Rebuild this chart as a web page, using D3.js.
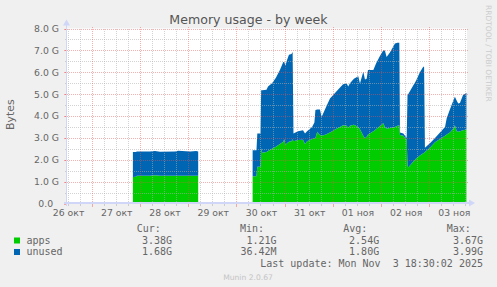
<!DOCTYPE html>
<html><head><meta charset="utf-8">
<script src="https://cdn.jsdelivr.net/npm/d3@7"></script>
<style>
html,body{margin:0;padding:0;background:#f0f0f0;}
svg{display:block;}
text{font-family:"DejaVu Sans",sans-serif;}
.mono{font-family:"DejaVu Sans Mono",monospace;white-space:pre;}
</style></head><body>
<script>
// ---- data (GB) ----
const times = [
 "2025-10-27 20:30","2025-10-27 22:00","2025-10-27 22:30","2025-10-28 05:00","2025-10-28 07:30","2025-10-28 10:00",
 "2025-10-28 17:30","2025-10-28 19:00","2025-10-29 01:00","2025-10-29 04:00","2025-10-29 05:00","2025-10-29 05:30",
 "2025-10-30 08:05","2025-10-30 10:00","2025-10-30 10:25","2025-10-30 12:00","2025-10-30 12:20","2025-10-30 12:50",
 "2025-10-30 15:00","2025-10-30 15:45","2025-10-30 17:45","2025-10-30 19:40","2025-10-30 21:40","2025-10-30 23:20",
 "2025-10-30 23:50","2025-10-31 00:25","2025-10-31 01:10","2025-10-31 02:10","2025-10-31 03:25","2025-10-31 04:00",
 "2025-10-31 04:25","2025-10-31 06:40","2025-10-31 09:10","2025-10-31 10:10","2025-10-31 11:10","2025-10-31 13:40",
 "2025-10-31 14:50","2025-10-31 15:20","2025-10-31 16:15","2025-10-31 17:35","2025-10-31 18:25","2025-10-31 20:35",
 "2025-10-31 22:35","2025-11-01 01:05","2025-11-01 03:35","2025-11-01 05:05","2025-11-01 06:55","2025-11-01 07:40",
 "2025-11-01 08:30","2025-11-01 10:30","2025-11-01 12:40","2025-11-01 13:30","2025-11-01 15:10","2025-11-01 16:00",
 "2025-11-01 16:50","2025-11-01 17:30","2025-11-01 20:10","2025-11-01 21:30","2025-11-01 23:30","2025-11-02 01:05",
 "2025-11-02 01:55","2025-11-02 02:45","2025-11-02 04:25","2025-11-02 06:55","2025-11-02 08:10","2025-11-02 09:05",
 "2025-11-02 09:25","2025-11-02 11:05","2025-11-02 11:55","2025-11-02 12:45","2025-11-02 13:10","2025-11-02 13:30",
 "2025-11-02 15:25","2025-11-02 17:20","2025-11-02 19:20","2025-11-02 21:00","2025-11-02 21:25","2025-11-02 21:50",
 "2025-11-03 00:20","2025-11-03 02:50","2025-11-03 05:20","2025-11-03 07:50","2025-11-03 08:40","2025-11-03 10:15",
 "2025-11-03 11:55","2025-11-03 12:45","2025-11-03 13:40","2025-11-03 14:25","2025-11-03 15:15","2025-11-03 16:45",
 "2025-11-03 18:30"
];
const apps = [
 1.21,1.22,1.27,1.27,1.29,1.27,
 1.27,1.27,1.27,1.27,1.27,null,
 1.25,1.25,1.68,1.68,2.53,2.32,
 2.35,2.40,2.50,2.60,2.72,2.82,
 2.94,2.67,2.75,2.82,2.85,2.94,
 2.85,2.90,2.92,2.72,2.85,2.95,
 2.98,3.00,3.28,3.13,3.10,3.15,
 3.25,3.38,3.50,3.58,3.55,3.45,
 3.55,3.60,3.50,3.40,3.10,2.98,
 3.05,3.15,3.30,3.40,3.54,3.67,
 3.50,3.42,3.45,3.50,3.55,3.58,
 3.13,3.10,3.00,2.95,1.75,1.65,
 1.85,2.05,2.20,2.30,2.32,2.35,
 2.55,2.80,2.95,3.10,3.15,3.25,
 3.42,3.58,3.30,3.28,3.30,3.35,
 3.38
];
const unused = [
 1.14,1.13,1.11,1.11,1.11,1.10,
 1.11,1.14,1.11,1.13,1.11,null,
 1.19,1.19,1.52,1.52,2.65,2.86,
 2.85,2.95,3.00,3.15,3.38,3.65,
 3.53,3.63,3.80,3.98,3.98,3.99,
 0.35,0.40,0.43,0.48,0.45,0.55,
 0.72,1.27,1.02,1.17,0.86,1.25,
 1.55,1.67,1.80,1.87,1.94,1.90,
 1.95,2.10,2.32,2.09,2.92,2.69,
 2.65,2.95,2.80,3.00,3.21,3.33,
 3.50,3.28,3.45,3.81,3.80,3.77,
 0.12,0.10,0.10,0.04,3.20,3.35,
 3.45,3.55,3.80,3.95,3.93,0.20,
 0.20,0.20,0.30,0.40,0.75,1.05,
 1.28,1.30,1.40,1.29,1.30,1.60,
 1.68
];
const yTickValues = [0,1,2,3,4,5,6,7,8];
const yTickLabels = ["0.0  ","1.0 G","2.0 G","3.0 G","4.0 G","5.0 G","6.0 G","7.0 G","8.0 G"];
const xTickDays = ["2025-10-26","2025-10-27","2025-10-28","2025-10-29","2025-10-30","2025-10-31","2025-11-01","2025-11-02","2025-11-03"];
const xTickLabels = ["26 окт","27 окт","28 окт","29 окт","30 окт","31 окт","01 ноя","02 ноя","03 ноя"];
const seriesNames = ["apps","unused"];
const seriesColors = ["#00CC00","#0066B3"];
const statHeaders = ["Cur:","Min:","Avg:","Max:"];
const appsStats = ["3.38G","1.21G","2.54G","3.67G"];
const unusedStats = ["1.68G","36.42M","1.80G","3.99G"];
const title = "Memory usage - by week";
const yLabel = "Bytes";
const lastUpdate = "Last update: Mon Nov  3 18:30:02 2025";
const footer = "Munin 2.0.67";
const sideText = "RRDTOOL / TOBI OETIKER";

// ---- layout ----
const W = 497, H = 287;
const X0 = 67, X1 = 467, Ytop = 28.5, Ybot = 203.5;
const parse = d3.utcParse("%Y-%m-%d %H:%M");
const parseDay = d3.utcParse("%Y-%m-%d");
const x = d3.scaleUtc()
  .domain([Date.UTC(2025,9,26,11,43), Date.UTC(2025,10,3,18,46)])
  .range([X0, X1]);
const y = d3.scaleLinear().domain([0,8]).range([Ybot, Ytop]);

const data = times.map((t,i) => ({t: parse(t), a: apps[i], u: unused[i]}));

const svg = d3.select("body").append("svg").attr("width", W).attr("height", H);
svg.append("rect").attr("width", W).attr("height", H).attr("fill", "#f0f0f0");
svg.append("rect").attr("x", X0).attr("y", Ytop).attr("width", X1 - X0).attr("height", Ybot - Ytop).attr("fill", "#ffffff");

// areas
const def = d => d.a != null && d.u != null;
const areaApps = d3.area().defined(def).x(d => x(d.t)).y0(y(0)).y1(d => y(d.a));
const areaUnused = d3.area().defined(def).x(d => x(d.t)).y0(d => y(d.a)).y1(d => y(d.a + d.u));
svg.append("path").datum(data).attr("d", areaApps).attr("fill", seriesColors[0]);
svg.append("path").datum(data).attr("d", areaUnused).attr("fill", seriesColors[1]);

// grid
const minorCol = "rgba(175,175,175,0.55)";
const majorCol = "rgba(235,80,80,0.45)";
const g = svg.append("g").attr("shape-rendering", "crispEdges");
const hMinor = d3.range(0.5, 8, 1);
hMinor.forEach(v => {
  const yy = Math.round(y(v)) + 0.5;
  g.append("line").attr("x1", X0 - 1).attr("x2", X1 + 1).attr("y1", yy).attr("y2", yy)
    .attr("stroke", minorCol).attr("stroke-dasharray", "1,1");
  g.append("line").attr("x1", X0 - 2).attr("x2", X0).attr("y1", yy).attr("y2", yy).attr("stroke", minorCol);
});
const vMinor = d3.utcHour.every(6).range(x.domain()[0], x.domain()[1]).filter(d => d.getUTCHours() !== 0);
vMinor.forEach(d => {
  const xx = Math.round(x(d)) + 0.5;
  g.append("line").attr("x1", xx).attr("x2", xx).attr("y1", Ytop).attr("y2", Ybot)
    .attr("stroke", minorCol).attr("stroke-dasharray", "1,1");
  g.append("line").attr("x1", xx).attr("x2", xx).attr("y1", Ybot).attr("y2", Ybot + 2).attr("stroke", minorCol);
});
yTickValues.forEach(v => {
  const yy = Math.round(y(v)) + 0.5;
  if (v > 0) g.append("line").attr("x1", X0 - 2).attr("x2", X1 + 2).attr("y1", yy).attr("y2", yy)
    .attr("stroke", majorCol).attr("stroke-dasharray", "1,1");
  g.append("line").attr("x1", X0 - 3).attr("x2", X0).attr("y1", yy).attr("y2", yy).attr("stroke", majorCol);
});
const vMajor = d3.utcDay.range(x.domain()[0], x.domain()[1]);
vMajor.forEach(d => {
  const xx = Math.round(x(d)) + 0.5;
  g.append("line").attr("x1", xx).attr("x2", xx).attr("y1", Ytop - 2).attr("y2", Ybot)
    .attr("stroke", majorCol).attr("stroke-dasharray", "1,1");
  g.append("line").attr("x1", xx).attr("x2", xx).attr("y1", Ybot).attr("y2", Ybot + 3).attr("stroke", majorCol);
});

// axes
const axisCol = "#CFD6F8";
g.append("line").attr("x1", X0 - 0.5).attr("x2", X0 - 0.5).attr("y1", Ybot + 2).attr("y2", Ytop - 5).attr("stroke", axisCol).attr("stroke-width", 1.5);
g.append("line").attr("x1", X0 - 3).attr("x2", X1 + 3).attr("y1", Ybot - 0.5).attr("y2", Ybot - 0.5).attr("stroke", axisCol).attr("stroke-width", 1.5);
svg.append("path").attr("d", `M${X0-4},${Ytop-3} L${X0+3},${Ytop-3} L${X0-0.5},${Ytop-9} Z`).attr("fill", axisCol);
svg.append("path").attr("d", `M${X1+2},${Ybot-4} L${X1+2},${Ybot+3} L${X1+8},${Ybot-0.5} Z`).attr("fill", axisCol);

// tick labels
const fontCol = "#666666";
svg.append("g").selectAll("text").data(yTickValues).join("text")
  .attr("x", 59).attr("y", v => y(v) + 3.4)
  .attr("text-anchor", "end").attr("font-size", 9.3).attr("fill", fontCol)
  .style("white-space", "pre")
  .text((v,i) => yTickLabels[i]);
svg.append("g").selectAll("text").data(xTickDays).join("text")
  .attr("x", d => x(d3.utcHour.offset(parseDay(d), 12)) + 1)
  .attr("y", 216)
  .attr("text-anchor", "middle").attr("font-size", 9.3).attr("fill", fontCol)
  .text((d,i) => xTickLabels[i]);

// title & labels
svg.append("text").attr("x", 248.5).attr("y", 24).attr("text-anchor", "middle")
  .attr("font-size", 12.6).attr("fill", "#555555").text(title);
svg.append("text").attr("transform", "translate(13.8,114.7) rotate(-90)")
  .attr("text-anchor", "middle").attr("font-size", 10.9).attr("fill", fontCol).text(yLabel);
svg.append("text").attr("transform", "translate(485.5,5) rotate(90)")
  .attr("text-anchor", "start").attr("font-size", 7.5).attr("fill", "#cccccc").text(sideText);

// legend
const hdrX = [136.7, 240, 343.3, 446.7];
const valX = [172, 276.5, 379.2, 483];
statHeaders.forEach((h,i) => {
  svg.append("text").attr("class", "mono").attr("x", hdrX[i]).attr("y", 232)
    .attr("font-size", 10).attr("fill", fontCol).text(h);
});
const rows = [appsStats, unusedStats];
const rowY = [243.5, 255];
seriesNames.forEach((name, r) => {
  svg.append("rect").attr("x", 14).attr("y", rowY[r] - 6).attr("width", 6).attr("height", 6)
    .attr("fill", seriesColors[r]);
  svg.append("text").attr("class", "mono").attr("x", 26.5).attr("y", rowY[r])
    .attr("font-size", 10).attr("fill", fontCol).text(name);
  rows[r].forEach((v,i) => {
    svg.append("text").attr("class", "mono").attr("x", valX[i]).attr("y", rowY[r])
      .attr("text-anchor", "end").attr("font-size", 10).attr("fill", fontCol).text(v);
  });
});
svg.append("text").attr("class", "mono").attr("x", 483).attr("y", 266.8)
  .attr("text-anchor", "end").attr("font-size", 10).attr("fill", fontCol).text(lastUpdate);
svg.append("text").attr("x", 248).attr("y", 279.5).attr("text-anchor", "middle")
  .attr("font-size", 7.6).attr("fill", "#c4c4c4").text(footer);
</script>
</body></html>
